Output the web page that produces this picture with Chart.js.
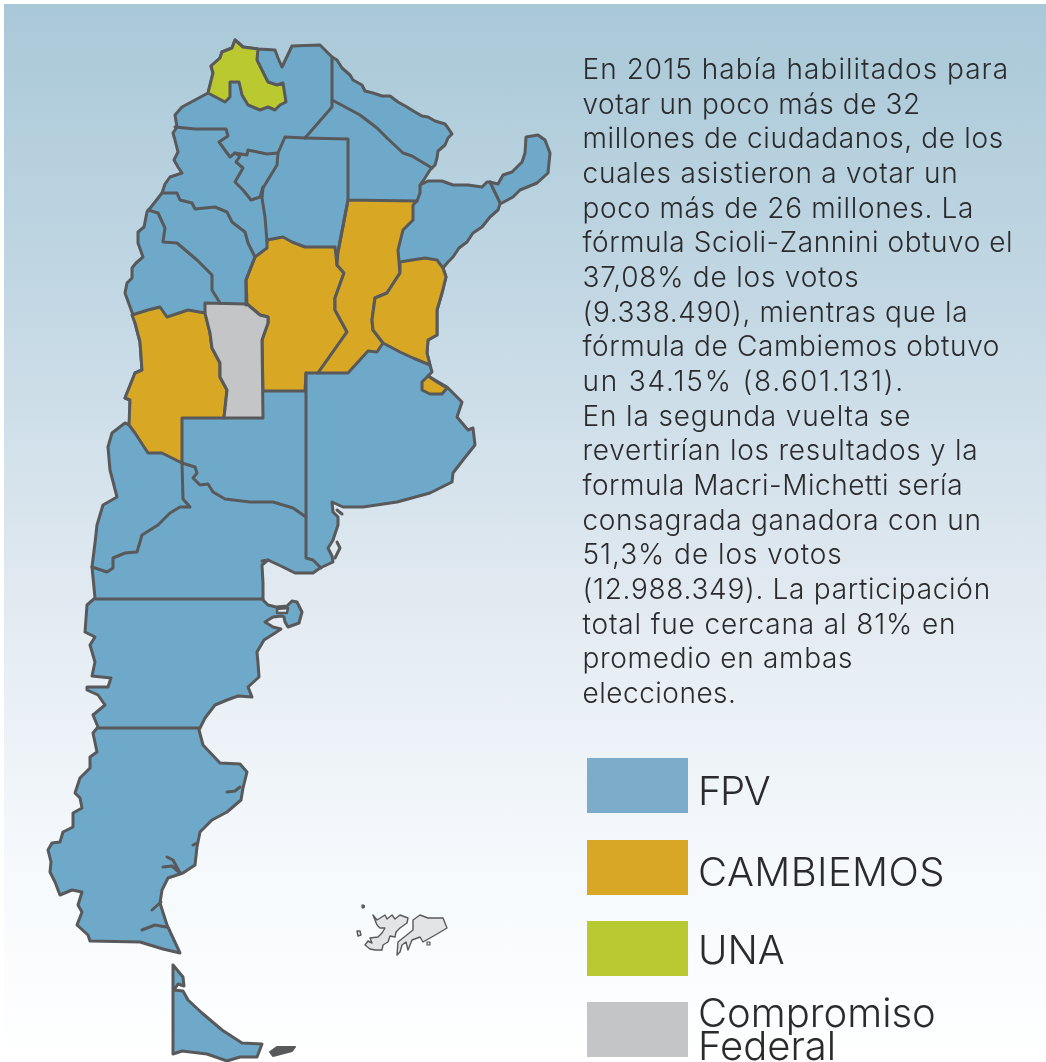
<!DOCTYPE html>
<html lang="es"><head><meta charset="utf-8">
<script src="https://cdn.jsdelivr.net/npm/chart.js@4"></script>
<style>
html,body{margin:0;padding:0;width:1046px;height:1062px;overflow:hidden;background:#fff}
#bg{position:absolute;left:4px;top:4px;width:1042px;height:1058px;background:linear-gradient(#a9c8d7 0,#c3d8e4 300px,#e2eaf1 596px,#f5f9fc 856px,#fff 1058px)}
#c{position:absolute;left:0;top:0}
.t{position:absolute;white-space:nowrap;font-family:"Inter","Liberation Sans",sans-serif;font-weight:300;color:#2b2a2c;line-height:1}
.s{position:absolute;left:587px;width:101px;height:55px}
</style></head><body>
<div id="bg"></div>
<canvas id="c" width="1046" height="1062"></canvas>
<div id="overlay"></div>
<script>
const paragraphLines=["En 2015 había habilitados para","votar un poco más de 32","millones de ciudadanos, de los","cuales asistieron a votar un","poco más de 26 millones. La","fórmula Scioli-Zannini obtuvo el","37,08% de los votos","(9.338.490), mientras que la","fórmula de Cambiemos obtuvo","un 34.15% (8.601.131).","En la segunda vuelta se","revertirían los resultados y la","formula Macri-Michetti sería","consagrada ganadora con un","51,3% de los votos","(12.988.349). La participación","total fue cercana al 81% en","promedio en ambas","elecciones."];
const partyNames=["FPV","CAMBIEMOS","UNA","Compromiso Federal"];
const partyColors=["#7dacca","#d8a726","#b9c932","#c4c5c7"];
const mapBlue="#6fa9ca",mapOrange="#d8a724",mapGreen="#bac92f",mapGray="#c4c5c7",isleGray="#e3e4e6",lineGray="#58595b",seaTone="#e4ecf2";

const mainland=[[235,40],[243,47],[258,49],[275,50],[278,58],[282,67],[292,46],[320,45],[332,57],[337,60],[342,68],[350,75],[353,80],[362,85],[365,91],[373,93],[382,96],[390,96],[398,102],[407,107],[415,112],[422,116],[428,117],[435,121],[445,124],[448,128],[452,134],[448,138],[445,145],[438,151],[437,158],[435,165],[430,170],[425,178],[420,185],[428,181],[442,181],[453,185],[468,185],[482,187],[487,182],[490,182],[498,184],[503,175],[512,172],[522,162],[525,153],[526,137],[538,135],[545,140],[550,153],[548,173],[537,183],[520,190],[513,197],[500,204],[498,210],[490,217],[482,227],[473,233],[467,242],[459,248],[453,257],[448,262],[443,268],[446,277],[442,293],[437,310],[437,335],[428,340],[427,353],[430,365],[432,372],[428,376],[447,387],[462,402],[457,417],[468,430],[473,428],[475,445],[463,460],[453,473],[452,482],[430,493],[397,502],[363,507],[343,507],[332,502],[333,512],[338,517],[338,525],[333,540],[330,545],[328,548],[332,556],[333,562],[320,568],[313,573],[295,573],[283,567],[268,560],[262,565],[263,583],[263,600],[268,605],[276,607],[287,606],[292,601],[297,602],[302,612],[299,623],[288,627],[285,622],[284,617],[282,616],[273,617],[265,622],[273,627],[281,629],[275,633],[264,640],[257,652],[258,663],[259,677],[248,687],[252,697],[238,696],[227,700],[215,705],[205,718],[199,730],[203,745],[220,763],[240,764],[247,772],[243,788],[241,800],[227,812],[212,820],[200,832],[197,847],[195,865],[183,873],[168,878],[162,890],[160,903],[167,925],[180,953],[163,949],[140,942],[90,941],[88,935],[77,925],[82,912],[78,905],[82,892],[72,890],[60,895],[55,882],[50,872],[51,862],[48,850],[52,843],[60,842],[63,832],[73,827],[73,813],[82,808],[80,798],[75,793],[80,778],[90,768],[90,757],[97,752],[93,733],[98,727],[93,715],[105,705],[98,695],[87,690],[87,687],[108,687],[111,678],[92,676],[95,662],[90,645],[95,637],[85,632],[87,605],[95,598],[92,567],[95,543],[97,525],[103,505],[117,497],[110,470],[108,447],[112,433],[125,423],[130,425],[130,400],[125,398],[135,373],[142,370],[140,342],[135,323],[133,315],[125,293],[127,283],[132,278],[132,268],[136,263],[143,257],[138,243],[138,232],[144,227],[147,212],[155,202],[162,193],[165,184],[170,177],[182,173],[178,167],[174,160],[178,152],[175,140],[173,133],[177,127],[175,115],[182,107],[208,93],[213,73],[211,66],[220,58],[222,52],[232,48],[235,40]];
const tierraDelFuego=[[173,965],[183,977],[184,986],[178,984],[174,990],[183,991],[188,1000],[202,1013],[222,1030],[242,1043],[262,1044],[257,1057],[240,1057],[227,1061],[207,1054],[182,1051],[173,1054],[173,965]];
const estados=[[270,1052],[277,1047],[295,1047],[292,1051],[273,1056],[270,1052]];
const malvinasWest=[[373,915],[377,920],[385,915],[387,919],[392,915],[395,919],[400,915],[408,918],[407,923],[400,928],[396,932],[395,937],[390,936],[388,942],[383,945],[382,950],[375,950],[370,949],[365,945],[368,941],[372,943],[370,938],[378,937],[382,933],[385,928],[380,928],[377,925],[373,915]];
const malvinasEast=[[413,920],[420,915],[428,918],[443,918],[447,928],[437,934],[430,938],[423,942],[420,937],[412,940],[408,950],[406,942],[402,945],[400,952],[397,955],[398,942],[413,930],[413,920]];
const malvinasDotA=[[357,931],[360,931],[361,935],[358,936],[357,931]];
const malvinasDotB=[[362,905],[364,905],[364,908],[362,908],[362,905]];
const malvinasDotC=[[427,942],[430,942],[430,945],[427,945],[427,942]];
const sanJoseGulf=[[277,609],[288,608],[287,613],[277,613],[277,609]];

const jujuy=[[235,40],[243,47],[258,49],[257,60],[263,72],[268,82],[277,85],[283,83],[286,102],[280,105],[275,110],[268,107],[260,110],[248,105],[242,95],[239,82],[230,82],[230,97],[225,102],[208,93],[213,73],[211,66],[220,58],[222,52],[232,48],[235,40]];
const mendoza=[[132,315],[148,310],[160,307],[167,317],[188,310],[205,313],[210,333],[212,348],[220,363],[220,377],[227,390],[224,418],[182,418],[182,463],[162,453],[148,453],[135,433],[129,425],[130,400],[125,398],[135,373],[142,370],[140,342],[135,323],[132,315]];
const sanLuis=[[205,303],[247,304],[260,315],[268,317],[268,323],[262,340],[263,418],[224,418],[227,390],[220,377],[220,363],[212,348],[210,333],[205,313],[205,303]];
const cordoba=[[255,257],[267,248],[267,240],[283,237],[292,242],[305,247],[335,247],[337,265],[344,273],[335,298],[335,310],[347,332],[318,373],[306,373],[305,391],[263,391],[262,340],[268,323],[268,317],[260,315],[247,304],[246,280],[255,257]];
const santaFe=[[348,200],[417,201],[413,205],[413,220],[403,230],[398,250],[400,273],[387,293],[375,298],[372,320],[373,330],[383,343],[377,352],[368,351],[348,373],[318,373],[347,332],[335,310],[335,298],[344,273],[337,265],[338,252],[348,200]];
const entreRios=[[400,262],[412,260],[425,258],[437,260],[443,268],[446,277],[442,293],[437,310],[437,335],[428,340],[427,353],[430,365],[413,358],[400,352],[383,343],[373,330],[372,320],[375,298],[387,293],[400,273],[400,262]];
const caba=[[428,376],[422,382],[422,390],[430,394],[442,394],[447,388],[437,382],[428,376]];

const borderLines=[
[[332,57],[332,107],[305,138]],
[[332,100],[347,108],[360,115],[377,128],[387,138],[403,153],[412,156],[432,168]],
[[305,138],[285,137],[278,153],[277,165],[263,188],[262,198],[265,217],[267,242]],
[[305,138],[348,139],[348,200],[338,252]],
[[175,127],[195,129],[226,129],[228,136],[219,142],[230,157],[235,153],[247,155],[248,150],[267,154],[278,153]],
[[235,153],[240,156],[236,162],[243,168],[235,182],[243,190],[251,200],[260,197],[263,187]],
[[162,193],[177,193],[180,200],[192,203],[195,209],[215,207],[227,212],[232,222],[245,232],[248,243],[255,257]],
[[148,210],[158,213],[165,228],[163,242],[177,243],[197,260],[212,275],[212,290],[220,303]],
[[255,257],[246,280],[246,305]],
[[417,201],[420,193],[420,185]],
[[490,182],[500,203]],
[[306,373],[306,558],[313,560],[321,568]],
[[182,463],[195,467],[197,473],[193,478],[200,485],[208,484],[213,492],[225,499],[250,502],[273,502],[293,508],[306,517]],
[[182,463],[183,499],[190,507],[180,507],[170,513],[158,525],[142,535],[137,552],[125,553],[113,558],[113,568],[107,572],[92,567]],
[[96,599],[263,599]],
[[98,728],[199,728]],
[[227,792],[235,791],[240,787]],
[[167,857],[173,860],[180,873]],
[[163,867],[172,866],[180,873]],
[[152,910],[161,902]],
[[142,930],[155,925],[166,927]],
[[193,845],[197,843]],
[[262,561],[268,560]],
[[337,510],[342,514]],
[[337,542],[340,548],[335,558]]
];

const pts=a=>a.map(p=>({x:p[0],y:p[1]}));
const shape=(arr,fillColor,width)=>({data:pts(arr),showLine:true,fill:'shape',backgroundColor:fillColor,borderColor:lineGray,borderWidth:width,pointRadius:0,tension:0,borderJoinStyle:'round',borderCapStyle:'round',clip:false});
const stroke=(arr,width)=>({data:pts(arr),showLine:true,fill:false,borderColor:lineGray,borderWidth:width,pointRadius:0,tension:0,borderJoinStyle:'round',borderCapStyle:'round',clip:false});
const layers=[
 shape(mainland,mapBlue,3),shape(tierraDelFuego,mapBlue,3),shape(estados,lineGray,2),shape(sanJoseGulf,seaTone,2.5),
 shape(malvinasWest,isleGray,1.4),shape(malvinasEast,isleGray,1.4),shape(malvinasDotA,isleGray,1.4),shape(malvinasDotB,lineGray,1),shape(malvinasDotC,isleGray,1.2),
 shape(mendoza,mapOrange,3),shape(cordoba,mapOrange,3),shape(santaFe,mapOrange,3),shape(entreRios,mapOrange,3),shape(caba,mapOrange,3),
 shape(sanLuis,mapGray,3),shape(jujuy,mapGreen,3),
 ...borderLines.map(l=>stroke(l,3))
];
layers.forEach((d,i)=>d.order=layers.length-i);
new Chart(document.getElementById('c'),{type:'scatter',data:{datasets:layers},options:{responsive:false,animation:false,events:[],layout:{padding:0},
 scales:{x:{type:'linear',min:0,max:1046,display:false},y:{type:'linear',min:0,max:1062,reverse:true,display:false}},
 plugins:{legend:{display:false},tooltip:{enabled:false}}}});

const ov=document.getElementById('overlay');
const meas=document.createElement('canvas').getContext('2d');
function addText(txt,x,baseline,size,ls){const d=document.createElement('div');d.className='t';d.textContent=txt;d.style.left=x+'px';d.style.fontSize=size+'px';d.style.letterSpacing=ls+'px';
 d.style.top=(baseline-size*0.86)+'px';ov.appendChild(d);return d;}
paragraphLines.forEach((l,i)=>{
 meas.font='29.3px "Liberation Sans"';
 const target=meas.measureText(l).width+(l.length-1)*0.69;
 meas.font='300 28px Inter';
 const own=meas.measureText(l).width;
 addText(l,582.5,79+i*34.67,28,(target-own)/(l.length-1));
});
const swatchTops=[758,840,921,1002];
partyColors.forEach((c,i)=>{const s=document.createElement('div');s.className='s';s.style.top=swatchTops[i]+'px';s.style.background=c;ov.appendChild(s);});
addText(partyNames[0],698,805,40,-1.5);
addText(partyNames[1],698,886,40,0.4);
addText(partyNames[2],698,964,40,0);
const fed=partyNames[3].split(' ');
addText(fed[0],698,1027,40,0);
addText(fed[1],698,1060,40,0);
</script>
</body></html>
